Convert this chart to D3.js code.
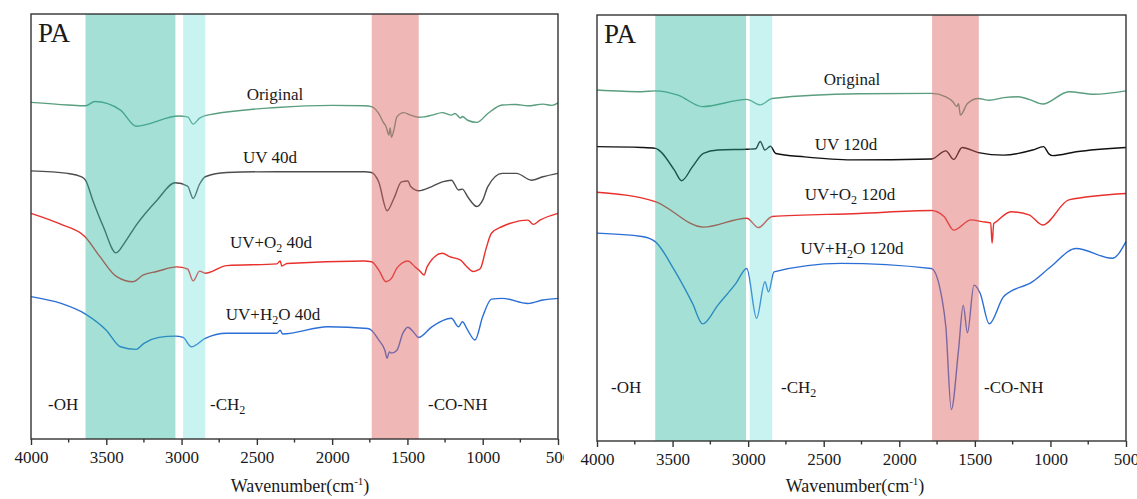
<!DOCTYPE html>
<html>
<head>
<meta charset="utf-8">
<script src="https://cdn.jsdelivr.net/npm/d3@7"></script>
<style>
  body { margin: 0; background: #fff; }
  svg text { font-family: "Liberation Serif", "Times New Roman", serif; fill: #1a1a1a; }
</style>
</head>
<body>
<div id="chart"></div>
<script>
// wavenumber ticks
const majorTicks = [4000, 3500, 3000, 2500, 2000, 1500, 1000, 500];
const minorTicks = [3750, 3250, 2750, 2250, 1750, 1250, 750];

// spectra, [wavenumber, transmittance a.u.]
const leftOriginal = [[4000,79.2],[3756,78.6],[3638,78.4],[3575,79.4],[3406,77.4],[3302,73.6],[3019,76.0],[2960,75.8],[2923,74.1],[2880,75.5],[2843,76.1],[2367,78.0],[2000,78.5],[1787,78.4],[1739,78.2],[1691,76.6],[1660,74.5],[1642,73.5],[1635,72.7],[1623,71.5],[1615,73.2],[1606,71.0],[1590,72.7],[1570,75.8],[1525,76.8],[1478,76.2],[1425,75.7],[1389,75.8],[1338,76.2],[1268,76.8],[1208,76.2],[1184,76.6],[1147,75.5],[1135,75.9],[1100,75.0],[1039,74.5],[966,76.6],[870,78.6],[780,78.7],[700,78.4],[600,78.8],[540,78.5],[500,79.1]];
const leftUV40 = [[4000,63.1],[3756,62.5],[3660,61.6],[3638,60.9],[3590,56.2],[3520,50.0],[3435,43.8],[3380,46.1],[3300,50.4],[3163,56.2],[3043,60.3],[2960,59.5],[2923,56.6],[2880,60.0],[2843,61.7],[2700,62.7],[2367,62.9],[1787,62.9],[1739,62.7],[1691,60.5],[1635,53.7],[1590,56.6],[1540,60.5],[1497,60.7],[1478,59.4],[1425,58.4],[1338,59.4],[1268,60.5],[1208,60.9],[1160,58.6],[1135,58.8],[1100,57.0],[1039,54.7],[1000,56.2],[966,59.4],[870,62.5],[776,62.5],[676,60.9],[600,61.7],[500,62.5]];
const leftUVO2 = [[4000,53.1],[3807,50.6],[3641,47.6],[3542,42.9],[3431,38.2],[3322,37.0],[3254,38.6],[3165,39.4],[3032,40.5],[2960,40.0],[2923,37.2],[2880,39.5],[2843,39.0],[2700,40.8],[2367,41.2],[2345,41.9],[2335,40.7],[2300,41.3],[1787,41.9],[1739,41.7],[1691,39.8],[1642,37.0],[1606,37.8],[1570,40.2],[1497,41.9],[1450,40.5],[1425,39.8],[1389,38.6],[1370,40.5],[1268,43.7],[1220,42.9],[1147,42.1],[1110,40.7],[1063,39.4],[1030,39.8],[1014,40.2],[980,44.5],[942,48.4],[870,50.0],[821,50.7],[700,51.5],[664,50.5],[620,51.5],[500,53.1]];
const leftUVH2O = [[4000,33.5],[3800,31.9],[3638,29.4],[3500,25.6],[3406,21.7],[3302,21.1],[3250,22.5],[3150,23.9],[3043,24.2],[2990,23.9],[2935,21.7],[2843,23.7],[2700,24.9],[2367,24.9],[2345,25.6],[2330,24.7],[2029,26.4],[1763,26.0],[1739,25.6],[1691,23.3],[1650,20.9],[1635,19.0],[1620,20.5],[1606,20.2],[1570,20.9],[1530,24.9],[1497,26.3],[1460,25.2],[1425,23.9],[1338,26.4],[1208,28.4],[1160,26.4],[1135,27.6],[1100,25.6],[1051,23.3],[1000,28.8],[942,32.9],[870,33.1],[700,31.9],[600,32.7],[500,33.1]];

const rightOriginal = [[4000,82.4],[3703,82.0],[3615,82.2],[3464,81.2],[3301,78.5],[3009,80.2],[2920,78.9],[2841,80.4],[2267,81.5],[1788,81.6],[1692,80.8],[1644,79.6],[1620,78.5],[1608,79.2],[1596,76.5],[1549,79.2],[1477,80.4],[1405,80.0],[1309,80.6],[1213,80.8],[1142,80.2],[1051,79.1],[878,82.0],[711,81.4],[500,82.2]];
const rightUV120 = [[4000,69.1],[3703,68.9],[3615,68.7],[3488,63.6],[3440,61.1],[3368,64.4],[3296,67.5],[3200,68.3],[3009,68.5],[2950,68.6],[2920,70.3],[2889,68.3],[2853,69.2],[2817,67.5],[2626,66.7],[2315,66.0],[1788,66.2],[1692,68.1],[1640,66.1],[1584,68.9],[1477,67.7],[1309,67.1],[1118,68.3],[1046,69.1],[1010,67.4],[986,67.0],[830,67.9],[500,68.9]];
const rightUVO2 = [[4000,58.4],[3615,56.2],[3296,50.2],[3009,52.3],[2932,50.1],[2841,52.7],[2267,53.4],[1788,54.1],[1704,52.7],[1640,49.5],[1525,51.9],[1453,51.5],[1395,51.2],[1386,46.4],[1375,51.0],[1357,51.5],[1261,53.8],[1142,53.1],[1051,50.7],[878,56.6],[500,58.1]];
const rightUVH2O = [[4000,48.8],[3703,48.0],[3615,46.8],[3488,40.1],[3368,32.3],[3301,27.5],[3200,31.9],[3081,37.0],[3009,40.5],[2944,28.8],[2889,37.4],[2865,35.0],[2829,39.7],[2386,41.7],[1788,40.5],[1716,33.1],[1692,26.8],[1656,7.4],[1608,21.4],[1577,31.9],[1549,25.4],[1506,36.6],[1465,34.7],[1405,27.5],[1309,33.9],[1118,37.4],[998,40.9],[830,45.2],[591,42.9],[500,46.8]];

// highlighted bands [from, to] in cm-1
const leftBands = [[3638, 3041], [2990, 2843], [1737, 1425]];
const rightBands = [[3615, 3014], [2990, 2841], [1783, 1474]];
const bandColors = ["rgba(40,180,160,0.42)", "rgba(100,220,215,0.35)", "rgba(222,95,95,0.45)"];

const colors = { orig: "#5a9e7e", uv: "#4d4d4d", o2: "#e8302c", h2o: "#2b6fd6" };

const svg = d3.select("#chart").append("svg")
    .attr("width", 1137)
    .attr("height", 499);

function drawPanel(opt) {
    const width = opt.x1 - opt.x0, height = opt.y1 - opt.y0;
    const g = svg.append("g").attr("transform", `translate(${opt.x0},${opt.y0})`);

    const x = d3.scaleLinear().domain([4000, 500]).range([0, width]);
    const y = d3.scaleLinear().domain([0, 100]).range([height, 0]);

    const line = d3.line()
        .x(d => x(d[0]))
        .y(d => y(d[1]))
        .curve(d3.curveMonotoneX);

    // spectra
    opt.series.forEach(s => {
        g.append("path")
            .datum(s.data)
            .attr("fill", "none")
            .attr("stroke", s.color)
            .attr("stroke-width", 1.4)
            .attr("d", line);
    });

    // bands drawn over the lines, semi transparent
    g.selectAll("rect.band")
        .data(opt.bands)
        .enter()
        .append("rect")
        .attr("class", "band")
        .attr("x", d => x(d[0]))
        .attr("width", d => x(d[1]) - x(d[0]))
        .attr("y", 0)
        .attr("height", height)
        .attr("fill", (d, i) => bandColors[i]);

    // frame
    g.append("rect")
        .attr("width", width)
        .attr("height", height)
        .attr("fill", "none")
        .attr("stroke", "#333")
        .attr("stroke-width", 1.4);

    // bottom axis (the left one gets cut by the right panel like in the figure)
    const clipId = "clip" + opt.x0;
    svg.append("clipPath").attr("id", clipId)
        .append("rect")
        .attr("x", -40).attr("y", -10)
        .attr("width", opt.clipW + 40).attr("height", 80);
    const ax = g.append("g")
        .attr("transform", `translate(0,${height})`)
        .attr("clip-path", `url(#${clipId})`);
    ax.call(d3.axisBottom(x).tickValues(majorTicks).tickSize(6).tickFormat(d3.format("d")));
    ax.call(a => a.select(".domain").remove());
    ax.selectAll(".tick line").attr("stroke", "#333").attr("stroke-width", 1.4);
    ax.selectAll(".tick text")
        .attr("y", 12)
        .attr("dy", "0.71em")
        .style("font-size", "17px")
        .style("font-family", "Liberation Serif, serif")
        .attr("fill", "#1a1a1a");
    ax.selectAll("line.minor")
        .data(minorTicks)
        .enter()
        .append("line")
        .attr("class", "minor")
        .attr("x1", d => x(d)).attr("x2", d => x(d))
        .attr("y1", 0).attr("y2", 3.5)
        .attr("stroke", "#333")
        .attr("stroke-width", 1.4);

    // axis title
    const t = g.append("text")
        .attr("x", opt.titleX - opt.x0)
        .attr("y", 492 - opt.y0)
        .attr("text-anchor", "middle")
        .style("font-size", "18px");
    t.append("tspan").text("Wavenumber(cm");
    t.append("tspan").attr("dy", -7).style("font-size", "11px").text("-1");
    t.append("tspan").attr("dy", 7).text(")");

    // PA
    g.append("text")
        .attr("x", 7)
        .attr("y", 28)
        .style("font-size", "27px")
        .text("PA");

    // curve labels
    opt.labels.forEach(l => {
        const txt = g.append("text")
            .attr("x", l.x - opt.x0)
            .attr("y", l.y - opt.y0)
            .attr("text-anchor", l.anchor || "middle")
            .style("font-size", "17px");
        let shift = 0;
        l.parts.forEach(p => {
            if (p.sub) {
                txt.append("tspan").attr("dy", 4).style("font-size", "12px").text(p.sub);
                shift = -4;
            } else {
                txt.append("tspan").attr("dy", shift).text(p.t);
                shift = 0;
            }
        });
    });
}

drawPanel({
    x0: 31, x1: 558, y0: 14, y1: 439,
    titleX: 300,
    clipW: 533,
    bands: leftBands,
    series: [
        { data: leftOriginal, color: colors.orig },
        { data: leftUV40, color: colors.uv },
        { data: leftUVO2, color: colors.o2 },
        { data: leftUVH2O, color: colors.h2o }
    ],
    labels: [
        { x: 275, y: 100, parts: [{ t: "Original" }] },
        { x: 270, y: 163, parts: [{ t: "UV 40d" }] },
        { x: 271, y: 248, parts: [{ t: "UV+O" }, { sub: "2" }, { t: " 40d" }] },
        { x: 273, y: 320, parts: [{ t: "UV+H" }, { sub: "2" }, { t: "O 40d" }] },
        { x: 48, y: 410, anchor: "start", parts: [{ t: "-OH" }] },
        { x: 210, y: 410, anchor: "start", parts: [{ t: "-CH" }, { sub: "2" }] },
        { x: 428, y: 410, anchor: "start", parts: [{ t: "-CO-NH" }] }
    ]
});

drawPanel({
    x0: 597, x1: 1126, y0: 15, y1: 441,
    titleX: 855,
    clipW: 600,
    bands: rightBands,
    series: [
        { data: rightOriginal, color: colors.orig },
        { data: rightUV120, color: "#111" },
        { data: rightUVO2, color: colors.o2 },
        { data: rightUVH2O, color: colors.h2o }
    ],
    labels: [
        { x: 852, y: 85, parts: [{ t: "Original" }] },
        { x: 846, y: 150, parts: [{ t: "UV 120d" }] },
        { x: 850, y: 200, parts: [{ t: "UV+O" }, { sub: "2" }, { t: " 120d" }] },
        { x: 852, y: 254, parts: [{ t: "UV+H" }, { sub: "2" }, { t: "O 120d" }] },
        { x: 611, y: 393, anchor: "start", parts: [{ t: "-OH" }] },
        { x: 781, y: 393, anchor: "start", parts: [{ t: "-CH" }, { sub: "2" }] },
        { x: 984, y: 393, anchor: "start", parts: [{ t: "-CO-NH" }] }
    ]
});
</script>
</body>
</html>
